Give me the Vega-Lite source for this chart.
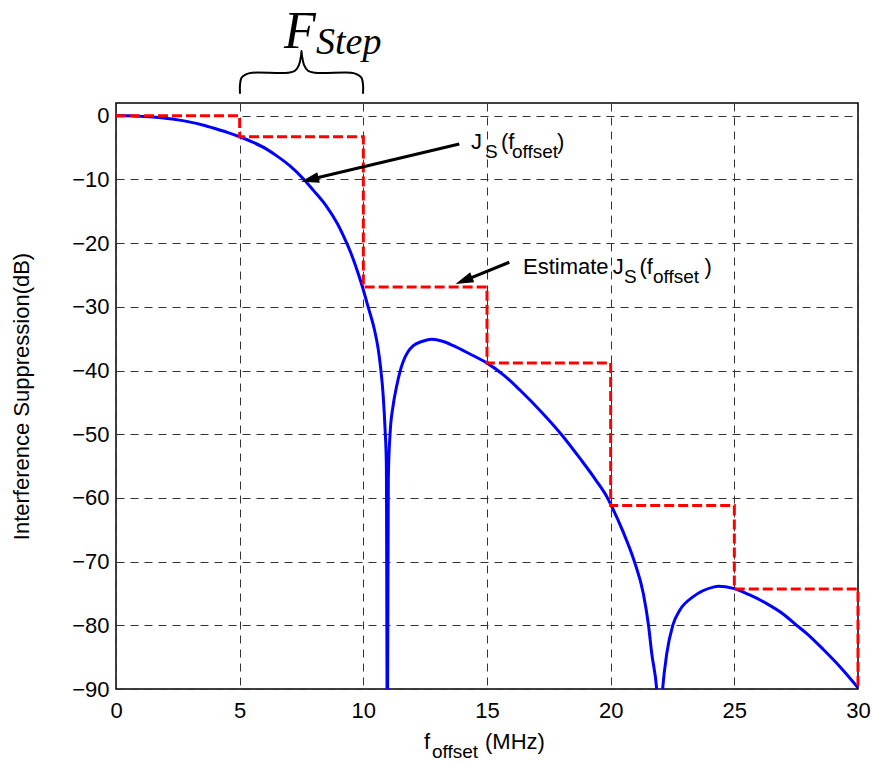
{
  "$schema": "https://vega.github.io/schema/vega-lite/v6.json",
  "width": 742,
  "height": 586,
  "autosize": {"type": "none"},
  "padding": {"left": 116, "top": 103, "right": 14, "bottom": 73},
  "background": "white",
  "config": {
    "view": {"stroke": "#000", "strokeWidth": 1.5},
    "font": "Liberation Sans",
    "axis": {
      "labelFont": "Liberation Sans",
      "labelFontSize": 22,
      "labelColor": "#000",
      "labelFlush": false,
      "labelOverlap": false,
      "ticks": false,
      "domain": false,
      "grid": true,
      "gridColor": "#333",
      "gridDash": [8, 6],
      "gridWidth": 1,
      "gridOpacity": 1,
      "titleFont": "Liberation Sans",
      "titleFontSize": 22,
      "titleFontWeight": "normal",
      "titleColor": "#000"
    }
  },
  "datasets": {
    "js": [
      {"f": 0, "db": 0}, {"f": 0.5, "db": -0.02}, {"f": 1, "db": -0.1}, {"f": 1.5, "db": -0.2},
      {"f": 2, "db": -0.4}, {"f": 2.5, "db": -0.65}, {"f": 3, "db": -1.0}, {"f": 3.5, "db": -1.45},
      {"f": 4, "db": -2.0}, {"f": 4.5, "db": -2.6}, {"f": 5, "db": -3.3}, {"f": 5.5, "db": -4.1},
      {"f": 6.07, "db": -5.2}, {"f": 6.5, "db": -6.3}, {"f": 7.01, "db": -7.8}, {"f": 7.6, "db": -10},
      {"f": 8.0, "db": -11.8}, {"f": 8.49, "db": -14.1}, {"f": 8.96, "db": -17}, {"f": 9.2, "db": -18.9},
      {"f": 9.46, "db": -21.2}, {"f": 9.7, "db": -23.7}, {"f": 9.95, "db": -26.7}, {"f": 10.2, "db": -30.1},
      {"f": 10.45, "db": -33.6}, {"f": 10.6, "db": -36.6}, {"f": 10.7, "db": -39.6}, {"f": 10.8, "db": -43.8},
      {"f": 10.88, "db": -49.3}, {"f": 10.93, "db": -54.5}, {"f": 10.97, "db": -100}, {"f": 11.01, "db": -57},
      {"f": 11.08, "db": -50}, {"f": 11.2, "db": -45.6}, {"f": 11.35, "db": -42.4}, {"f": 11.48, "db": -40.2},
      {"f": 11.62, "db": -38.5}, {"f": 11.8, "db": -37.1}, {"f": 12.02, "db": -36.1}, {"f": 12.4, "db": -35.4},
      {"f": 12.77, "db": -35.1}, {"f": 13.2, "db": -35.4}, {"f": 13.64, "db": -36.1}, {"f": 14.31, "db": -37.4},
      {"f": 14.99, "db": -38.8}, {"f": 15.7, "db": -40.8}, {"f": 16.34, "db": -43.1}, {"f": 17.2, "db": -46.5},
      {"f": 18.0, "db": -50}, {"f": 18.76, "db": -53.8}, {"f": 19.4, "db": -57.2}, {"f": 19.87, "db": -60},
      {"f": 20.0, "db": -61.0}, {"f": 20.5, "db": -65.3}, {"f": 20.96, "db": -70}, {"f": 21.32, "db": -75},
      {"f": 21.53, "db": -80}, {"f": 21.66, "db": -84.4}, {"f": 21.86, "db": -90}, {"f": 21.98, "db": -97},
      {"f": 22.1, "db": -90}, {"f": 22.27, "db": -84.4}, {"f": 22.51, "db": -80}, {"f": 22.8, "db": -77.6},
      {"f": 23.34, "db": -75.5}, {"f": 24.15, "db": -74.0}, {"f": 24.36, "db": -73.85}, {"f": 24.96, "db": -74.2},
      {"f": 25.6, "db": -75.2}, {"f": 26.31, "db": -76.6}, {"f": 27.0, "db": -78.3}, {"f": 27.52, "db": -80},
      {"f": 27.93, "db": -81.3}, {"f": 28.6, "db": -83.8}, {"f": 29.27, "db": -86.5}, {"f": 30, "db": -89.8}
    ],
    "estimate": [
      {"i": 0, "f": 0, "db": 0}, {"i": 1, "f": 5, "db": 0},
      {"i": 2, "f": 5, "db": -3.3}, {"i": 3, "f": 10, "db": -3.3},
      {"i": 4, "f": 10, "db": -26.9}, {"i": 5, "f": 15, "db": -26.9},
      {"i": 6, "f": 15, "db": -38.8}, {"i": 7, "f": 20, "db": -38.8},
      {"i": 8, "f": 20, "db": -61.2}, {"i": 9, "f": 25, "db": -61.2},
      {"i": 10, "f": 25, "db": -74.3}, {"i": 11, "f": 30, "db": -74.3},
      {"i": 12, "f": 30, "db": -90}
    ],
    "brace": [
      {"i": 0, "f": 5.014, "db": 3.449}, {"i": 1, "f": 5.014, "db": 4.86},
      {"i": 2, "f": 5.074, "db": 5.958}, {"i": 3, "f": 5.256, "db": 6.507},
      {"i": 4, "f": 5.499, "db": 6.742}, {"i": 5, "f": 6.954, "db": 6.742},
      {"i": 6, "f": 7.237, "db": 7.056}, {"i": 7, "f": 7.399, "db": 7.996},
      {"i": 8, "f": 7.48, "db": 9.407}, {"i": 9, "f": 7.5, "db": 10.191},
      {"i": 10, "f": 7.52, "db": 9.407}, {"i": 11, "f": 7.601, "db": 7.996},
      {"i": 12, "f": 7.763, "db": 7.056}, {"i": 13, "f": 8.046, "db": 6.742},
      {"i": 14, "f": 9.502, "db": 6.742}, {"i": 15, "f": 9.744, "db": 6.507},
      {"i": 16, "f": 9.926, "db": 5.958}, {"i": 17, "f": 9.987, "db": 4.86},
      {"i": 18, "f": 9.987, "db": 3.449}
    ],
    "arrows": [
      {"f": 13.88, "db": -4.437, "f2": 7.795, "db2": -10.05},
      {"f": 15.902, "db": -23.0, "f2": 14.026, "db2": -25.95}
    ],
    "labels": [
      {"f": 14.354, "db": -5.221, "t": "J", "kind": "main"},
      {"f": 14.92, "db": -6.695, "t": "S", "kind": "sub"},
      {"f": 15.566, "db": -5.221, "t": "(f", "kind": "main"},
      {"f": 16.011, "db": -6.695, "t": "offset", "kind": "sub"},
      {"f": 17.83, "db": -5.221, "t": ")", "kind": "main"},
      {"f": 16.456, "db": -24.82, "t": "Estimate", "kind": "main"},
      {"f": 20.083, "db": -24.82, "t": "J", "kind": "main"},
      {"f": 20.54, "db": -26.26, "t": "S", "kind": "sub"},
      {"f": 21.166, "db": -24.82, "t": "(f", "kind": "main"},
      {"f": 21.712, "db": -26.26, "t": "offset", "kind": "sub"},
      {"f": 23.794, "db": -24.82, "t": ")", "kind": "main"},
      {"f": 12.453, "db": -99.4, "t": "f", "kind": "main"},
      {"f": 12.776, "db": -100.82, "t": "offset", "kind": "sub"},
      {"f": 14.919, "db": -99.4, "t": "(MHz)", "kind": "main"}
    ]
  },
  "encoding": {
    "x": {
      "field": "f", "type": "quantitative",
      "scale": {"domain": [0, 30], "nice": false, "zero": false},
      "axis": {"values": [0, 5, 10, 15, 20, 25, 30], "title": null, "labelPadding": 11}
    },
    "y": {
      "field": "db", "type": "quantitative",
      "scale": {"domain": [-90, 2], "nice": false, "zero": false},
      "axis": {
        "values": [0, -10, -20, -30, -40, -50, -60, -70, -80, -90],
        "title": "Interference Suppression(dB)",
        "labelPadding": 7,
        "titlePadding": 38
      }
    }
  },
  "layer": [
    {
      "data": {"name": "js"},
      "mark": {"type": "line", "color": "#0000ff", "strokeWidth": 3, "interpolate": "monotone", "clip": true}
    },
    {
      "data": {"name": "estimate"},
      "mark": {"type": "line", "color": "#ff0000", "strokeWidth": 3, "strokeDash": [10, 4]},
      "encoding": {"order": {"field": "i", "type": "quantitative"}}
    },
    {
      "data": {"name": "brace"},
      "mark": {"type": "line", "color": "#000", "strokeWidth": 2, "interpolate": "catmull-rom", "clip": false},
      "encoding": {"order": {"field": "i", "type": "quantitative"}}
    },
    {
      "data": {"name": "arrows"},
      "mark": {"type": "rule", "color": "#000", "strokeWidth": 3},
      "encoding": {"x2": {"field": "f2"}, "y2": {"field": "db2"}}
    },
    {
      "data": {"values": [{"f": 7.48, "db": -10.348}]},
      "mark": {"type": "point", "shape": "M0,0L0.3,1L-0.3,1Z", "filled": true, "color": "#000", "opacity": 1, "size": 1296, "angle": 256.6}
    },
    {
      "data": {"values": [{"f": 13.727, "db": -26.42}]},
      "mark": {"type": "point", "shape": "M0,0L0.3,1L-0.3,1Z", "filled": true, "color": "#000", "opacity": 1, "size": 1296, "angle": 247.9}
    },
    {
      "data": {"name": "labels"},
      "transform": [{"filter": "datum.kind === 'main'"}],
      "mark": {"type": "text", "align": "left", "baseline": "alphabetic", "font": "Liberation Sans", "fontSize": 22, "color": "#000"},
      "encoding": {"text": {"field": "t"}}
    },
    {
      "data": {"name": "labels"},
      "transform": [{"filter": "datum.kind === 'sub'"}],
      "mark": {"type": "text", "align": "left", "baseline": "alphabetic", "font": "Liberation Sans", "fontSize": 19, "color": "#000"},
      "encoding": {"text": {"field": "t"}}
    },
    {
      "data": {"values": [{"f": 6.793, "db": 10.709, "t": "F"}]},
      "mark": {"type": "text", "align": "left", "baseline": "alphabetic", "font": "Liberation Serif", "fontStyle": "italic", "fontSize": 52, "color": "#000"},
      "encoding": {"text": {"field": "t"}}
    },
    {
      "data": {"values": [{"f": 8.087, "db": 9.643, "t": "Step"}]},
      "mark": {"type": "text", "align": "left", "baseline": "alphabetic", "font": "Liberation Serif", "fontStyle": "italic", "fontSize": 38, "color": "#000"},
      "encoding": {"text": {"field": "t"}}
    }
  ]
}
